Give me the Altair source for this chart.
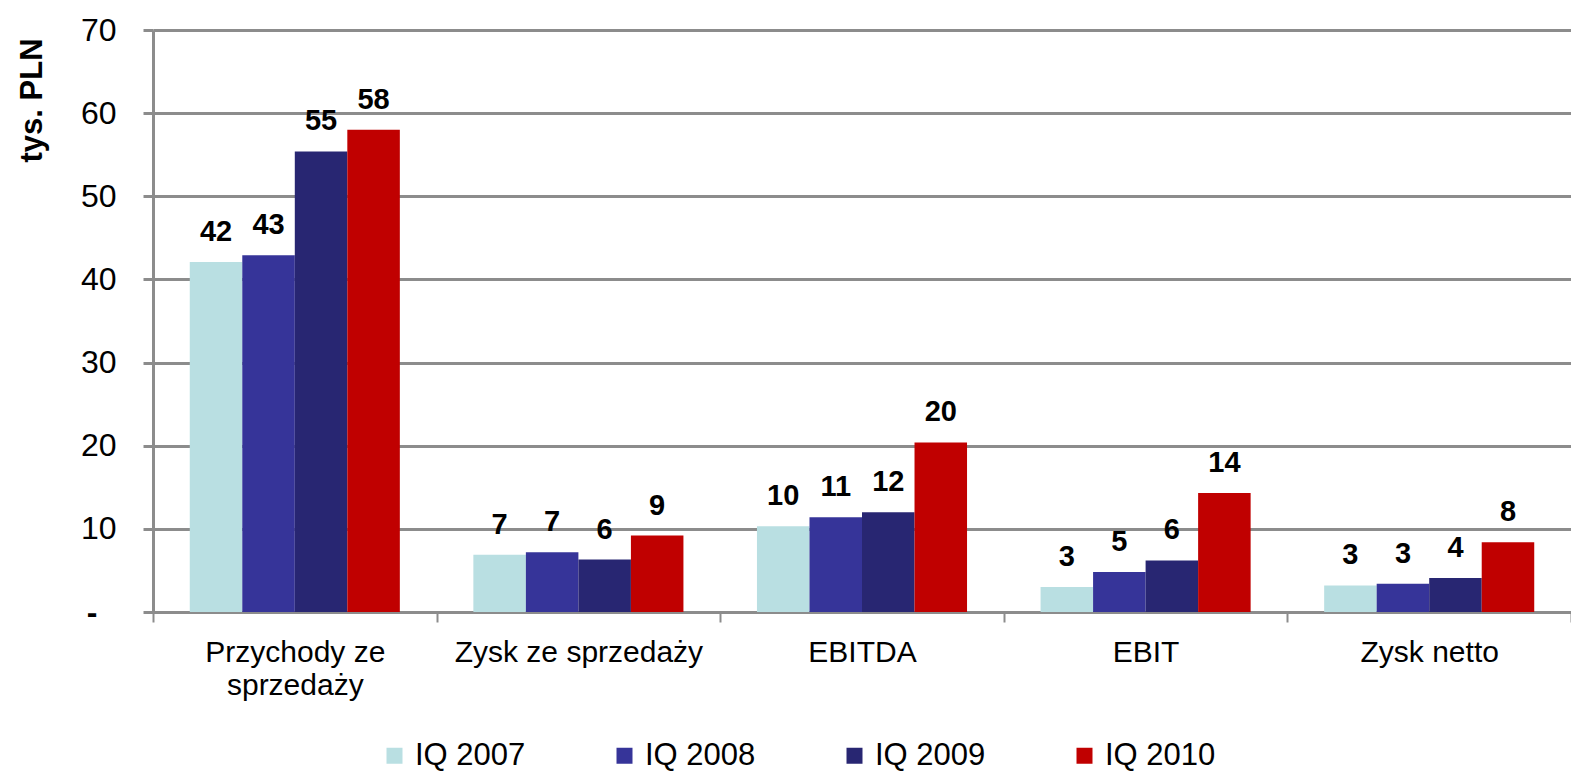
import altair as alt
import pandas as pd

categories = ["Przychody ze sprzedaży", "Zysk ze sprzedaży", "EBITDA", "EBIT", "Zysk netto"]
years = ["IQ 2007", "IQ 2008", "IQ 2009", "IQ 2010"]
v2007 = [42.1, 6.9, 10.3, 3.0, 3.2]
v2008 = [42.9, 7.2, 11.4, 4.8, 3.4]
v2009 = [55.4, 6.3, 12.0, 6.2, 4.1]
v2010 = [58.0, 9.2, 20.4, 14.3, 8.4]
colors = ["#b9dfe2", "#363499", "#282672", "#c00000"]
y_ticks = [0, 10, 20, 30, 40, 50, 60, 70]

rows = []
for yr, vals in zip(years, [v2007, v2008, v2009, v2010]):
    for c, v in zip(categories, vals):
        rows.append({"cat": c, "year": yr, "value": v})
df = pd.DataFrame(rows)

FONT = "Liberation Sans"

x_enc = alt.X(
    "cat:N", sort=categories,
    scale=alt.Scale(paddingInner=0, paddingOuter=0),
    axis=alt.Axis(
        title=None, labelAngle=0, labelFontSize=30, labelFont=FONT, labelColor="black",
        labelPadding=15, labelLineHeight=33, labelLimit=400,
        labelExpr="datum.label == 'Przychody ze sprzedaży' ? ['Przychody ze', 'sprzedaży'] : datum.label",
        tickBand="extent", tickSize=10, tickWidth=2, tickColor="#8c8c8c",
        domainColor="#8c8c8c", domainWidth=3, grid=False,
    ),
)
xoff = alt.XOffset("year:N", sort=years, scale=alt.Scale(paddingOuter=0.7, paddingInner=0))
y_enc = alt.Y(
    "value:Q",
    scale=alt.Scale(domain=[0, 70], nice=False),
    axis=alt.Axis(
        title="tys. PLN", titleFont=FONT, titleFontSize=31, titleFontWeight="bold",
        titleColor="black", titleX=-121, titleY=70, titleAlign="center",
        titleBaseline="middle", titleAngle=270,
        values=y_ticks, labelFontSize=32, labelFont=FONT, labelColor="black",
        labelPadding={"condition": {"test": "datum.value == 0", "value": 46}, "value": 27},
        labelFontWeight={"condition": {"test": "datum.value == 0", "value": "bold"}, "value": "normal"},
        labelExpr="datum.value == 0 ? '-' : datum.label",
        tickSize=10, tickWidth=3, tickColor="#8c8c8c",
        grid=True, gridColor="#8c8c8c", gridWidth=3,
        domainColor="#8c8c8c", domainWidth=3,
    ),
)

bars = alt.Chart(df).mark_bar(strokeWidth=0).encode(
    x=x_enc,
    xOffset=xoff,
    y=y_enc,
    color=alt.Color(
        "year:N", sort=years,
        scale=alt.Scale(domain=years, range=colors),
        legend=alt.Legend(
            title=None, orient="none", legendX=226, legendY=710,
            direction="horizontal", columns=4, columnPadding=83,
            symbolType="square", symbolSize=256, symbolStrokeWidth=0,
            labelFontSize=31, labelFont=FONT, labelColor="black", labelOffset=5,
            labelLimit=300,
        ),
    ),
)

labels = alt.Chart(df).mark_text(
    baseline="bottom", dy=-15, fontSize=29, fontWeight="bold", font=FONT, color="black"
).encode(
    x=alt.X("cat:N", sort=categories),
    xOffset=xoff,
    y="value:Q",
    text=alt.Text("value:Q", format=".0f"),
)

chart = alt.layer(bars, labels).properties(
    width=1418, height=582,
    autosize=alt.AutoSizeParams(type="none"),
    padding={"left": 145, "top": 22, "right": 0, "bottom": 160},
).configure_view(stroke=None).configure(background="white")

chart.save("out.html", embed_options={"renderer": "svg", "actions": False})
